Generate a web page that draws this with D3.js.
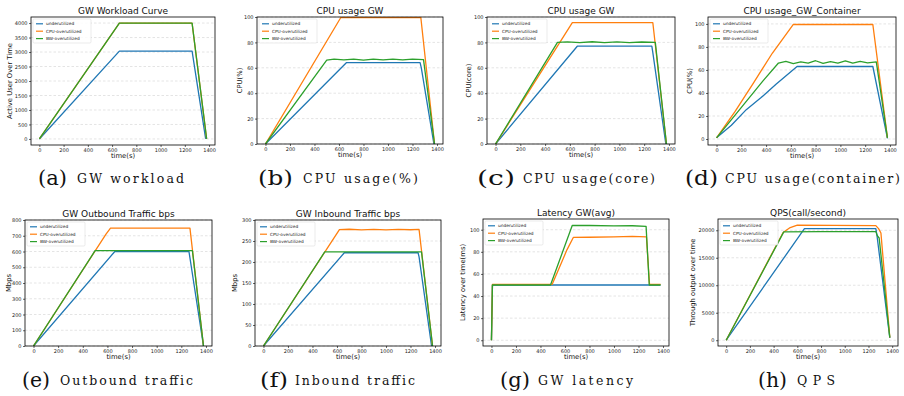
<!DOCTYPE html>
<html>
<head>
<meta charset="utf-8">
<script src="https://cdn.jsdelivr.net/npm/d3@7"></script>
<style>
  body { margin: 0; background: #fff; }
  text { font-family: "DejaVu Sans", sans-serif; }
</style>
</head>
<body>
<svg id="fig" width="904" height="396"></svg>
<script>
// legend / colours shared by all panels
const seriesNames = ["underutilized", "CPU-overutilized", "BW-overutilized"];
const seriesColors = ["#1f77b4", "#ff7f0e", "#2ca02c"];
const timeTicks = [0, 200, 400, 600, 800, 1000, 1200, 1400];

// (a) workload, active users
const workloadUnder = [[0, 0], [660, 3030], [1260, 3030], [1372, 0]];
const workloadCpu = [[0, 0], [660, 4000], [1260, 4000], [1380, 0]];
const workloadBw = [[0, 0], [660, 4000], [1260, 4000], [1380, 0]];
const workloadTicks = [0, 500, 1000, 1500, 2000, 2500, 3000, 3500, 4000];

// (b) cpu usage %
const cpuPctUnder = [[0, 0], [660, 64], [1262, 64], [1272, 60], [1375, 0]];
const cpuPctCpu = [[0, 0], [615, 99.6], [1268, 99.6], [1380, 0]];
const cpuPctBw = [[0, 0], [500, 66], [560, 66.9], [640, 66.2], [720, 66.8], [800, 66.1], [880, 66.9], [960, 66.3], [1040, 66.8], [1120, 66.2], [1200, 66.9], [1290, 66.4], [1380, 0]];
const pctTicks = [0, 20, 40, 60, 80, 100];

// (c) cpu usage cores
const cpuCoreUnder = [[0, 0], [660, 77], [1262, 77], [1270, 72], [1375, 0]];
const cpuCoreCpu = [[0, 0], [500, 77], [620, 95.5], [1270, 95.5], [1380, 0]];
const cpuCoreBw = [[0, 0], [500, 80], [580, 80.4], [680, 79.8], [780, 80.5], [880, 79.9], [980, 80.4], [1080, 79.8], [1180, 80.3], [1290, 80], [1380, 0]];

// (d) container cpu %
const contUnder = [[0, 1], [120, 12], [240, 25.5], [360, 36], [480, 47.5], [650, 63], [1262, 63], [1380, 0.5]];
const contCpu = [[0, 1], [150, 24], [300, 49], [450, 74.5], [620, 99.5], [1262, 99.5], [1380, 1]];
const contBw = [[0, 1], [125, 17.5], [250, 34], [375, 50.5], [500, 66], [560, 67.5], [620, 65.5], [680, 67], [740, 66], [800, 68], [860, 65.8], [920, 67.3], [980, 66], [1040, 67.9], [1100, 65.9], [1160, 67.5], [1220, 66.2], [1290, 67], [1380, 1]];

// (e) outbound Mbps
const outUnder = [[0, 0], [660, 600], [1262, 600], [1380, 0]];
const outCpu = [[0, 0], [590, 712], [625, 748], [1270, 748], [1380, 0]];
const outBw = [[0, 0], [500, 605], [1290, 605], [1380, 0]];
const outTicks = [0, 100, 200, 300, 400, 500, 600, 700, 800];

// (f) inbound Mbps
const inUnder = [[0, 0], [660, 222], [1262, 222], [1270, 212], [1372, 0]];
const inCpu = [[0, 0], [620, 277], [700, 278], [800, 276.5], [900, 277.8], [1000, 276.6], [1100, 277.7], [1200, 276.8], [1270, 277.5], [1380, 0]];
const inBw = [[0, 0], [500, 224], [1290, 224], [1380, 0]];
const inTicks = [0, 50, 100, 150, 200, 250, 300];

// (g) latency ms
const latUnder = [[0, 0], [8, 50], [1380, 50]];
const latCpu = [[0, 0], [8, 50.5], [495, 50.5], [617, 82], [668, 93], [800, 93.2], [1000, 93.5], [1150, 94], [1265, 93.5], [1290, 50.5], [1380, 50.5]];
const latBw = [[0, 0], [8, 50], [482, 50], [660, 104], [800, 103.8], [1000, 103.5], [1150, 103.6], [1262, 103], [1288, 50], [1380, 50]];
const latTicks = [0, 20, 40, 60, 80, 100];

// (h) qps
const qpsUnder = [[0, 0], [660, 20300], [1262, 20300], [1272, 19000], [1380, 400]];
const qpsCpu = [[0, 0], [480, 19600], [540, 20500], [600, 20950], [900, 20900], [1262, 20850], [1285, 20300], [1305, 19500], [1380, 500]];
const qpsBw = [[0, 0], [486, 19700], [800, 19760], [1262, 19750], [1275, 19000], [1290, 18600], [1380, 500]];
const qpsTicks = [0, 5000, 10000, 15000, 20000];

const panels = [
  { title: "GW Workload Curve", ylabel: "Active User Over Time", tag: "(a)", cap: "GW workload",
    box: [31, 17, 215, 145], ylim: [-209, 4209], yticks: workloadTicks, lines: [workloadUnder, workloadCpu, workloadBw],
    ylx: 10, cp: [38, 67, 77, 184, 183] },
  { title: "CPU usage GW", ylabel: "CPU(%)", tag: "(b)", cap: "CPU usage(%)",
    box: [257, 17, 443, 144], ylim: [0, 100], yticks: pctTicks, lines: [cpuPctUnder, cpuPctCpu, cpuPctBw],
    ylx: 240, cp: [258, 293, 303, 418, 183] },
  { title: "CPU usage GW", ylabel: "CPU(core)", tag: "(c)", cap: "CPU usage(core)",
    box: [487, 17, 675, 144], ylim: [0, 100], yticks: pctTicks, lines: [cpuCoreUnder, cpuCoreCpu, cpuCoreBw],
    ylx: 469, cp: [477, 515, 523, 655, 183] },
  { title: "CPU usage_GW_Container", ylabel: "CPU(%)", tag: "(d)", cap: "CPU usage(container)",
    box: [708, 17, 896, 145], ylim: [-5.2, 106], yticks: pctTicks, lines: [contUnder, contCpu, contBw],
    ylx: 690, cp: [685, 718, 725, 900, 183] },
  { title: "GW Outbound Traffic bps", ylabel: "Mbps", tag: "(e)", cap: "Outbound traffic",
    box: [25, 220, 212, 346], ylim: [0, 800], yticks: outTicks, lines: [outUnder, outCpu, outBw],
    ylx: 9, cp: [22, 50, 60, 193, 385] },
  { title: "GW Inbound Traffic bps", ylabel: "Mbps", tag: "(f)", cap: "Inbound traffic",
    box: [255, 220, 441, 346], ylim: [0, 300], yticks: inTicks, lines: [inUnder, inCpu, inBw],
    ylx: 235, cp: [260, 288, 295, 415, 385] },
  { title: "Latency GW(avg)", ylabel: "Latency over time(ms)", tag: "(g)", cap: "GW latency",
    box: [483, 219, 669, 346], ylim: [-5.2, 109.7], yticks: latTicks, lines: [latUnder, latCpu, latBw],
    ylx: 463, cp: [500, 530, 538, 633, 385] },
  { title: "QPS(call/second)", ylabel: "Through output over time", tag: "(h)", cap: "QPS",
    box: [718, 219, 898, 346], ylim: [-1050, 22050], yticks: qpsTicks, lines: [qpsUnder, qpsCpu, qpsBw],
    ylx: 693, cp: [758, 787, 797, 835, 385] }
];

const svg = d3.select("#fig");
const defs = svg.append("defs");
const fmt = d3.format("d");

panels.forEach((p, i) => {
  const [L, T, R, B] = p.box;
  const x = d3.scaleLinear().domain([-69, 1449]).range([L, R]);
  const y = d3.scaleLinear().domain(p.ylim).range([B, T]);
  const g = svg.append("g");

  defs.append("clipPath").attr("id", "clip" + i)
    .append("rect").attr("x", L).attr("y", T).attr("width", R - L).attr("height", B - T);

  // dashed horizontal grid
  g.selectAll(".grid").data(p.yticks).enter().append("line")
    .attr("x1", L).attr("x2", R)
    .attr("y1", d => y(d)).attr("y2", d => y(d))
    .attr("stroke", "#c8c8c8").attr("stroke-width", 0.5)
    .attr("stroke-dasharray", "2.5,2");

  const line = d3.line().x(d => x(d[0])).y(d => y(d[1]));
  g.append("g").attr("clip-path", "url(#clip" + i + ")")
    .selectAll("path").data(p.lines).enter().append("path")
    .attr("d", line)
    .attr("fill", "none")
    .attr("stroke", (d, k) => seriesColors[k])
    .attr("stroke-width", 1.3)
    .attr("stroke-linejoin", "round");

  // axes
  const xa = g.append("g").attr("transform", "translate(0," + B + ")")
    .call(d3.axisBottom(x).tickValues(timeTicks).tickSize(2).tickPadding(1.5).tickFormat(fmt));
  const ya = g.append("g").attr("transform", "translate(" + L + ",0)")
    .call(d3.axisLeft(y).tickValues(p.yticks).tickSize(2).tickPadding(1.5).tickFormat(fmt));
  [xa, ya].forEach(a => {
    a.select(".domain").remove();
    a.selectAll("line").attr("stroke", "#000").attr("stroke-width", 0.6);
    a.selectAll("text").attr("font-size", 5).attr("fill", "#222")
      .style("font-family", "DejaVu Sans, sans-serif");
  });

  g.append("rect").attr("x", L).attr("y", T).attr("width", R - L).attr("height", B - T)
    .attr("fill", "none").attr("stroke", "#000").attr("stroke-width", 0.8);

  // legend
  const lg = g.append("g").attr("transform", "translate(" + (L + 2) + "," + (T + 2) + ")");
  lg.append("rect").attr("width", 58).attr("height", 24).attr("rx", 1.2)
    .attr("fill", "#fff").attr("fill-opacity", 0.85)
    .attr("stroke", "#d6d6d6").attr("stroke-width", 0.5);
  seriesNames.forEach((n, k) => {
    const yy = 4.8 + k * 7.4;
    lg.append("line").attr("x1", 3).attr("x2", 10).attr("y1", yy).attr("y2", yy)
      .attr("stroke", seriesColors[k]).attr("stroke-width", 1.2);
    lg.append("text").attr("x", 13).attr("y", yy + 1.5).attr("font-size", 4.3)
      .attr("fill", "#222").text(n);
  });

  // titles and labels
  g.append("text").attr("x", (L + R) / 2).attr("y", T - 3.5)
    .attr("text-anchor", "middle").attr("font-size", 9).attr("fill", "#111").text(p.title);
  g.append("text").attr("x", (L + R) / 2).attr("y", B + 13)
    .attr("text-anchor", "middle").attr("font-size", 6.8).attr("fill", "#111").text("time(s)");
  g.append("text")
    .attr("transform", "translate(" + p.ylx + "," + (T + B) / 2 + ") rotate(-90)")
    .attr("text-anchor", "middle").attr("dy", "0.35em")
    .attr("font-size", 6.8).attr("fill", "#111").text(p.ylabel);

  // sub-figure caption
  const [t0, t1, c0, c1, cb] = p.cp;
  g.append("text").attr("x", t0).attr("y", cb + 2)
    .attr("textLength", t1 - t0).attr("lengthAdjust", "spacingAndGlyphs")
    .attr("font-size", 21).attr("fill", "#111")
    .style("font-family", "DejaVu Serif, serif").text(p.tag);
  g.append("text").attr("x", c0).attr("y", cb)
    .attr("textLength", c1 - c0).attr("lengthAdjust", "spacing")
    .attr("font-size", 12.5).attr("fill", "#111")
    .style("font-family", "DejaVu Serif, serif").text(p.cap);
});
</script>
</body>
</html>
